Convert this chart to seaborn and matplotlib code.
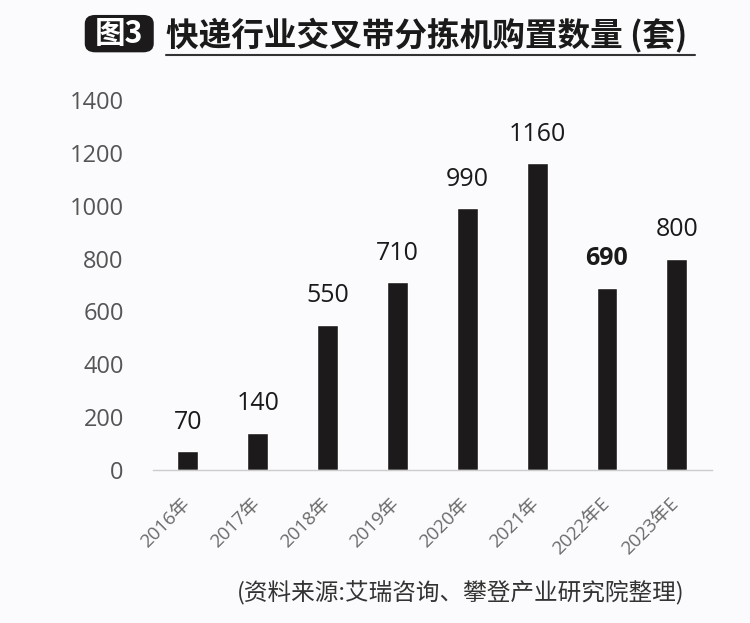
import matplotlib
matplotlib.use("Agg")
import matplotlib.pyplot as plt
import matplotlib.transforms as mtransforms
import seaborn as sns
import pandas as pd
from matplotlib.patches import FancyBboxPatch

years = ["2016年", "2017年", "2018年", "2019年", "2020年", "2021年", "2022年E", "2023年E"]
values = [70, 140, 550, 710, 990, 1160, 690, 800]
yticks = [0, 200, 400, 600, 800, 1000, 1200, 1400]

sns.set_theme(style="white")
plt.rcParams['font.family'] = ['Noto Sans CJK SC', 'DejaVu Sans']
NUMFONT = ['Open Sans', 'Noto Sans CJK SC', 'DejaVu Sans']

df = pd.DataFrame({"year": years, "value": values})

fig = plt.figure(figsize=(7.5, 6.23), dpi=100)
fig.patch.set_facecolor("#fbfbfd")
ax = fig.add_axes([0.204, 0.2456, 0.745, 0.594])
ax.set_facecolor("#fbfbfd")

sns.barplot(data=df, x="year", y="value", color="#1c1a1b", width=0.3, ax=ax, saturation=1)

ax.set_xlim(-0.5, len(years) - 0.5)
ax.set_ylim(0, 1400)
ax.set_yticks(yticks)
ax.set_yticklabels([str(t) for t in yticks], fontsize=17, color="#555555", family=NUMFONT)
ax.set_xticks(range(len(years)))
ax.set_xticklabels(years, rotation=45, ha="right", rotation_mode="anchor",
                   fontsize=13.5, color="#6a6a6a", family=NUMFONT)
ax.tick_params(axis="y", length=0, pad=21)
ax.tick_params(axis="x", length=0, pad=18)
shift = mtransforms.ScaledTranslation(-7 / 100, 0, fig.dpi_scale_trans)
for lab in ax.get_xticklabels():
    lab.set_transform(lab.get_transform() + shift)
ax.set_xlabel("")
ax.set_ylabel("")
for s in ["top", "right", "left"]:
    ax.spines[s].set_visible(False)
ax.spines["bottom"].set_color("#cccccc")
ax.spines["bottom"].set_linewidth(1)

for i, v in enumerate(values):
    ax.annotate(str(v), (i, v), xytext=(0, 12), textcoords="offset points",
                ha="center", va="bottom", fontsize=18, color="#1a1a1a", family=NUMFONT,
                fontweight="bold" if i == 6 else "normal")

# Title box
box = FancyBboxPatch((0.115, 0.918), 0.088, 0.056, boxstyle="round,pad=0.002,rounding_size=0.014",
                     transform=fig.transFigure, facecolor="#1c1a1b", edgecolor="none")
fig.patches.append(box)
fig.text(0.159, 0.945, "图3", ha="center", va="center", fontsize=22, color="white",
         fontweight="bold")
fig.text(0.221, 0.942, "快递行业交叉带分拣机购置数量 (套)", ha="left", va="center",
         fontsize=23.5, color="#1a1a1a", fontweight="bold")
fig.add_artist(plt.Line2D([0.221, 0.927], [0.912, 0.912], transform=fig.transFigure,
                          color="#333333", linewidth=1.5))

fig.text(0.316, 0.05, "(资料来源:艾瑞咨询、攀登产业研究院整理)", ha="left", va="center",
         fontsize=17, color="#333333")

fig.savefig("out.png", dpi=100, facecolor=fig.get_facecolor())
